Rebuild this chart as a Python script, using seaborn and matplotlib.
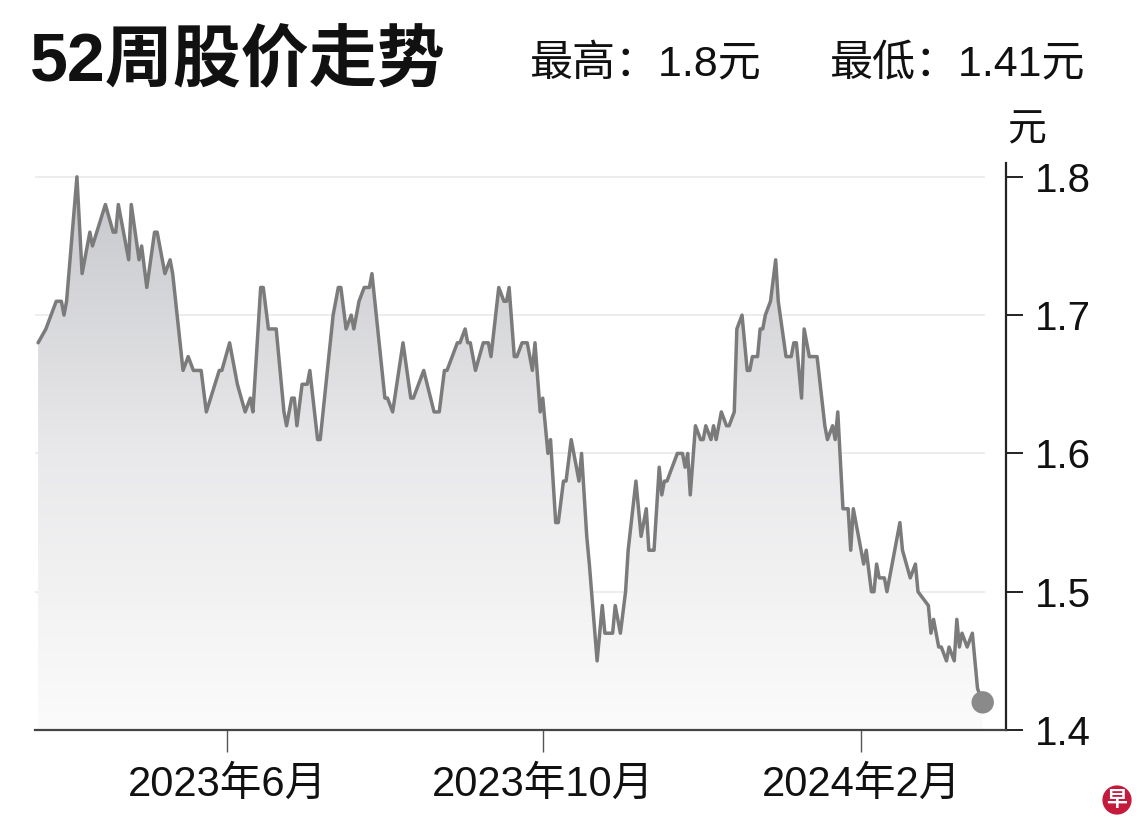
import numpy as np
import pandas as pd
import matplotlib
matplotlib.use('Agg')
import matplotlib.pyplot as plt
import matplotlib.dates as mdates
from matplotlib.colors import LinearSegmentedColormap
from matplotlib.patches import Polygon
import seaborn as sns

# Data (days since the first trading day, closing price)
start_date = '2023-03-20'
day_offsets = [0, 3, 7, 9, 10, 11, 15, 17, 20, 21,
               26, 29, 30, 31, 35, 36, 39, 40, 42, 45,
               46, 49, 51, 52, 56, 58, 60, 63, 65, 70,
               71, 74, 77, 80, 82, 83, 86, 87, 89, 92,
               95, 96, 98, 99, 100, 102, 104, 105, 108, 109,
               114, 116, 117, 119, 121, 122, 124, 126, 128, 129,
               134, 135, 137, 141, 144, 145, 149, 153, 155, 157,
               158, 162, 163, 165, 166, 167, 169, 172, 174, 175,
               178, 180, 181, 182, 184, 185, 187, 189, 191, 192,
               194, 195, 197, 198, 200, 201, 203, 204, 206, 209,
               210, 212, 213, 216, 218, 219, 222, 223, 225, 227,
               228, 231, 233, 235, 236, 238, 240, 241, 242, 243,
               247, 249, 250, 251, 252, 254, 256, 257, 258, 260,
               261, 262, 264, 266, 267, 269, 270, 272, 274, 275,
               276, 278, 279, 280, 281, 283, 285, 286, 289, 291,
               292, 293, 295, 296, 298, 301, 304, 305, 307, 308,
               309, 311, 313, 314, 315, 316, 319, 320, 322, 323,
               324, 325, 327, 328, 330, 333, 334, 337, 339, 340,
               344, 345, 346, 348, 349, 351, 352, 354, 355, 356,
               357, 359, 361, 363, 365]
prices = [1.68, 1.69, 1.71, 1.71, 1.70, 1.71, 1.80, 1.73, 1.76, 1.75,
          1.78, 1.76, 1.76, 1.78, 1.74, 1.78, 1.74, 1.75, 1.72, 1.76,
          1.76, 1.73, 1.74, 1.73, 1.66, 1.67, 1.66, 1.66, 1.63, 1.66,
          1.66, 1.68, 1.65, 1.63, 1.64, 1.63, 1.72, 1.72, 1.69, 1.69,
          1.63, 1.62, 1.64, 1.64, 1.62, 1.65, 1.65, 1.66, 1.61, 1.61,
          1.70, 1.72, 1.72, 1.69, 1.70, 1.69, 1.71, 1.72, 1.72, 1.73,
          1.64, 1.64, 1.63, 1.68, 1.64, 1.64, 1.66, 1.63, 1.63, 1.66,
          1.66, 1.68, 1.68, 1.69, 1.68, 1.68, 1.66, 1.68, 1.68, 1.67,
          1.72, 1.71, 1.71, 1.72, 1.67, 1.67, 1.68, 1.68, 1.66, 1.68,
          1.63, 1.64, 1.60, 1.61, 1.55, 1.55, 1.58, 1.58, 1.61, 1.58,
          1.60, 1.54, 1.52, 1.45, 1.49, 1.47, 1.47, 1.49, 1.47, 1.50,
          1.53, 1.58, 1.54, 1.56, 1.53, 1.53, 1.59, 1.57, 1.58, 1.58,
          1.60, 1.60, 1.59, 1.60, 1.57, 1.62, 1.61, 1.61, 1.62, 1.61,
          1.62, 1.61, 1.63, 1.62, 1.62, 1.63, 1.69, 1.70, 1.66, 1.66,
          1.67, 1.67, 1.69, 1.69, 1.70, 1.71, 1.74, 1.71, 1.67, 1.67,
          1.68, 1.68, 1.64, 1.69, 1.67, 1.67, 1.62, 1.61, 1.62, 1.61,
          1.63, 1.56, 1.56, 1.53, 1.56, 1.55, 1.52, 1.53, 1.50, 1.50,
          1.52, 1.51, 1.51, 1.50, 1.52, 1.55, 1.53, 1.51, 1.52, 1.50,
          1.49, 1.47, 1.48, 1.46, 1.46, 1.45, 1.46, 1.45, 1.48, 1.46,
          1.47, 1.46, 1.47, 1.43, 1.42]

tick_dates = ['2023-06-01', '2023-10-01', '2024-02-01']
tick_labels = ['2023年6月', '2023年10月', '2024年2月']
y_ticks = [1.4, 1.5, 1.6, 1.7, 1.8]
title = '52周股价走势'
high_text = '最高：1.8元'
low_text = '最低：1.41元'
unit = '元'

df = pd.DataFrame({
    'date': pd.Timestamp(start_date) + pd.to_timedelta(day_offsets, unit='D'),
    'price': prices,
})

sns.set_theme(style='white')
plt.rcParams['font.family'] = ['Liberation Sans', 'Noto Sans CJK SC']

fig = plt.figure(figsize=(11.4, 8.24), dpi=100)
ax = fig.add_axes([35 / 1140, 94 / 824, 971 / 1140, 567 / 824])

x0 = pd.Timestamp(start_date) - pd.Timedelta(days=1.2)
x1 = pd.Timestamp(start_date) + pd.Timedelta(days=374)
xn = mdates.date2num(df['date'])

# gradient fill below the line
cmap = LinearSegmentedColormap.from_list('fade', ['#fbfbfb', '#e9e9eb', '#c6c7cb'])
grad = np.linspace(0, 1, 256).reshape(-1, 1)
im = ax.imshow(grad, cmap=cmap, aspect='auto', origin='lower',
               extent=[mdates.date2num(x0), mdates.date2num(x1), 1.4, 1.8], zorder=1)
verts = [(xn[0], 1.4)] + list(zip(xn, df['price'])) + [(xn[-1], 1.4)]
clip = Polygon(verts, closed=True, facecolor='none', edgecolor='none')
ax.add_patch(clip)
im.set_clip_path(clip)

# light grid lines
ax.hlines(y_ticks[1:], mdates.date2num(x0), xn[-1] + 1, color='#ececec', lw=1.3, zorder=0)

sns.lineplot(data=df, x='date', y='price', color='#7b7b7b', linewidth=2.5, ax=ax, zorder=3)
sns.scatterplot(data=df.tail(1), x='date', y='price', color='#8a8a8a', s=260,
                edgecolor='none', ax=ax, zorder=4)

ax.set_xlim(x0, x1)
ax.set_ylim(1.4, 1.81)
ax.set_xlabel('')
ax.set_ylabel('')

for s in ['left', 'top']:
    ax.spines[s].set_visible(False)
ax.spines['right'].set_color('#222222')
ax.spines['right'].set_linewidth(1.6)
ax.spines['bottom'].set_color('#444444')
ax.spines['bottom'].set_linewidth(1.6)

ax.yaxis.tick_right()
ax.set_yticks(y_ticks)
ax.set_yticklabels([f'{v:.1f}' for v in y_ticks])
ax.tick_params(axis='y', direction='out', length=12, width=1.3, pad=9,
               labelsize=29, colors='#111111', right=True, left=False)

ax.set_xticks(mdates.date2num(pd.to_datetime(tick_dates)))
ax.set_xticklabels(tick_labels)
ax.tick_params(axis='x', direction='out', length=16, width=1, pad=9,
               labelsize=30, colors='#555555', labelcolor='#111111', bottom=True)

fig.text(30 / 1140, 1 - 63 / 824, title, fontsize=49, fontweight='bold',
         ha='left', va='center', color='#111111')
fig.text(530 / 1140, 1 - 65 / 824, high_text, fontsize=31,
         ha='left', va='center', color='#111111')
fig.text(1085 / 1140, 1 - 65 / 824, low_text, fontsize=31,
         ha='right', va='center', color='#111111')
fig.text(1027 / 1140, 1 - 130 / 824, unit, fontsize=28,
         ha='center', va='center', color='#111111')

# small logo
fig.text(1117 / 1140, 1 - 800 / 824, '早', fontsize=15, fontweight='bold', color='white',
         ha='center', va='center',
         bbox=dict(boxstyle='circle,pad=0.2', fc='#c41a3b', ec='none'))

fig.savefig('out.png', dpi=100)
